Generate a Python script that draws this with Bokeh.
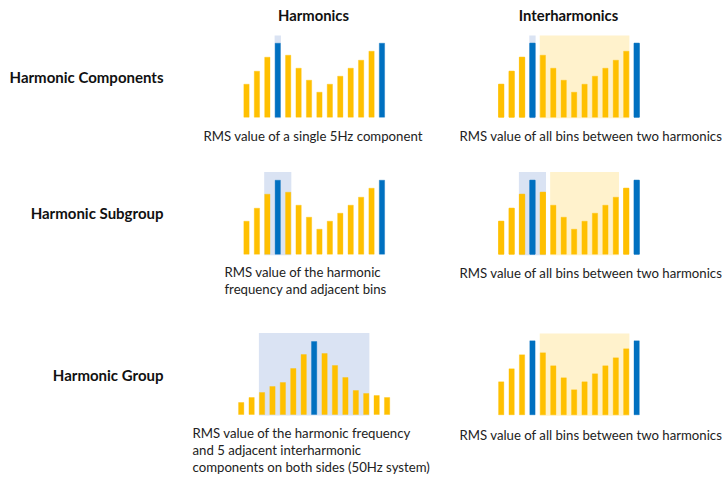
from bokeh.plotting import figure
from bokeh.models import Range1d
from bokeh.core.properties import value
from bokeh.embed import file_html
from bokeh.resources import INLINE

# ---- data ----
spectrum = [33, 46, 60, 74, 62, 49, 37, 25, 33, 41, 49, 57, 66, 74]
group_spectrum = [12, 17, 22, 28, 32, 46, 60, 73, 61, 49, 37, 24, 21, 19, 17]
spectrum_blue = [3, 13]
group_blue = [7]

col_titles = ["Harmonics", "Interharmonics"]
row_titles = ["Harmonic Components", "Harmonic Subgroup", "Harmonic Group"]
cap_h = [["RMS value of a single 5Hz component"],
         ["RMS value of the harmonic", "frequency and adjacent bins"],
         ["RMS value of the harmonic frequency", "and 5 adjacent interharmonic",
          "components on both sides (50Hz system)"]]
cap_i = "RMS value of all bins between two harmonics"

# ---- style / layout ----
YEL = "#FFC000"
BLU = "#0070C0"
LBLU = "#DAE3F3"
LYEL = "#FFF2CC"
PITCH = 10.42
BW = 5.3
FONT = "Lato"
W, H = 722, 475

p = figure(width=W, height=H, output_backend="svg", toolbar_location=None,
           x_range=Range1d(0, W), y_range=Range1d(H, 0),
           min_border=0, outline_line_color=None)
p.axis.visible = False
p.grid.visible = False
p.background_fill_color = "white"


def panel(x0, base, vals, blues, blue_hl=None, yel_hl=None, hl_top=None):
    xs = [x0 + i * PITCH for i in range(len(vals))]
    for rng, col in ((blue_hl, LBLU), (yel_hl, LYEL)):
        if rng is None:
            continue
        a, b = rng
        left = xs[a] - BW / 2 - 0.5
        right = xs[b] + BW / 2 + 0.5
        p.quad(left=[left], right=[right], top=[hl_top], bottom=[base + 1],
               fill_color=col, line_color=None)
    tops = [base - v for v in vals]
    colors = [BLU if i in blues else YEL for i in range(len(vals))]
    p.vbar(x=xs, width=BW, bottom=base, top=tops, fill_color=colors,
           line_color=colors, line_alpha=0.35, line_width=1)


panel(246, 116.7, spectrum, spectrum_blue, blue_hl=(3, 3), hl_top=35)
panel(500.7, 116.7, spectrum, spectrum_blue, blue_hl=(3, 3), hl_top=35)
panel(500.7, 116.7, spectrum, spectrum_blue, yel_hl=(4, 12), hl_top=35)
panel(246, 253.7, spectrum, spectrum_blue, blue_hl=(2, 4), hl_top=171.5)
panel(500.7, 253.7, spectrum, spectrum_blue, blue_hl=(2, 4), hl_top=171.5)
panel(500.7, 253.7, spectrum, spectrum_blue, yel_hl=(5, 11), hl_top=171.5)
panel(240.7, 414, group_spectrum, group_blue, blue_hl=(2, 12), hl_top=332.5)
panel(500.7, 414.3, spectrum, spectrum_blue, yel_hl=(4, 12), hl_top=333)

# column titles
p.text(x=[313, 568], y=[14, 14], text=col_titles, text_font=value(FONT),
       text_font_size="14.8px", text_font_style="bold", text_align="center",
       text_baseline="middle", text_color="#111111")
# row titles
p.text(x=[163, 163, 163], y=[76, 212, 374], text=row_titles, text_font=value(FONT),
       text_font_size="15px", text_font_style="bold", text_align="right",
       text_baseline="middle", text_color="#111111")

# captions
cx, cy, ct = [], [], []
starts = [(203, 135), (224, 271), (192, 432)]
for (sx, sy), lines in zip(starts, cap_h):
    for k, t in enumerate(lines):
        cx.append(sx)
        cy.append(sy + 17.2 * k)
        ct.append(t)
for sy in (135, 272, 434):
    cx.append(459)
    cy.append(sy)
    ct.append(cap_i)
p.text(x=cx, y=cy, text=ct, text_font=value(FONT), text_font_size="13.2px",
       text_align="left", text_baseline="middle", text_color="#222222")

open("out.html", "w").write(file_html(p, INLINE))
